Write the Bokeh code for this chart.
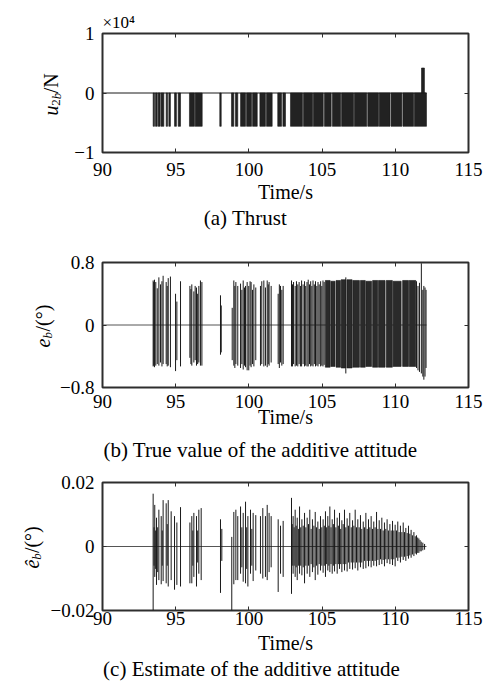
import math
from bokeh.plotting import figure
from bokeh.layouts import column, row
from bokeh.models import ColumnDataSource, FixedTicker, LinearAxis, Range1d, Title
from bokeh.core.properties import value
from bokeh.embed import file_html
from bokeh.resources import INLINE

SERIF = "Liberation Serif"
INK = "#1a1a1a"
FRAME = "#2e2e2e"

# ---------------- shared axis data ----------------
x_ticks = [90, 95, 100, 105, 110, 115]
sim_t = [90.0, 112.13]
sim_zero = [0.0, 0.0]

# ---------------- (a) thrust u_2b (N): on-intervals ----------------
thrust_start = [93.46, 93.62, 93.80, 94.00, 94.35, 94.53, 94.92, 95.17, 95.94, 96.33,
                98.01, 98.81, 99.08, 99.43, 99.84, 100.25, 100.75, 101.20, 101.97, 102.32,
                102.84, 103.73, 104.40, 105.16, 105.70, 106.33, 107.20, 108.12, 108.90,
                109.71, 110.52, 111.30, 111.79]
thrust_end = [93.55, 93.74, 93.94, 94.19, 94.44, 94.64, 95.05, 95.33, 96.28, 96.81,
              98.11, 98.97, 99.24, 99.77, 100.18, 100.57, 101.13, 101.59, 102.23, 102.50,
              103.66, 104.35, 105.08, 105.62, 106.27, 107.15, 108.05, 108.85, 109.64,
              110.45, 111.25, 112.13, 111.99]
thrust_level = [-5600, -5600, -5600, -5600, -5600, -5600, -5600, -5600, -5600, -5600,
                -5600, -5600, -5600, -5600, -5600, -5600, -5600, -5600, -5600, -5600,
                -5600, -5600, -5600, -5600, -5600, -5600, -5600, -5600, -5600,
                -5600, -5600, -5600, 4200]
a_yticks = [-10000, 0, 10000]
a_ylabels = ["\u22121", "0", "1"]

# ---------------- (b) true additive attitude e_b (deg) ----------------
b_t = [93.46, 93.50, 93.55, 93.64, 93.74, 93.85, 93.96, 94.06, 94.14, 94.35, 94.42, 94.49,
       94.64, 94.99, 95.08, 95.33, 95.97, 96.04, 96.10, 96.24, 96.33, 96.42, 96.50, 96.58,
       96.69, 96.79, 98.06, 98.11, 98.86, 98.97, 99.04, 99.11, 99.24, 99.43, 99.52, 99.61,
       99.70, 99.77, 99.88, 99.99, 100.08, 100.15, 100.25, 100.34, 100.47, 100.79, 100.88,
       101.02, 101.13, 101.25, 101.32, 101.38, 101.52, 102.00, 102.08, 102.16, 102.25,
       102.34, 102.91, 102.98, 103.05, 103.16, 103.25, 103.34, 103.43, 103.52, 103.60,
       103.70, 103.80, 103.88, 103.97, 104.05, 104.14, 104.22, 104.30, 104.38, 104.47,
       104.55, 104.64, 104.72, 104.80, 104.90, 104.98, 105.06, 105.14, 106.62, 111.45,
       111.55, 111.65, 111.78, 111.88, 111.95, 112.03, 112.10]
b_hi = [0.57, 0.55, 0.58, 0.55, 0.47, 0.61, 0.52, 0.56, 0.63, 0.55, 0.50, 0.60,
        0.62, 0.40, 0.30, 0.56, 0.50, 0.46, 0.52, 0.43, 0.50, 0.48, 0.40, 0.50,
        0.57, 0.55, 0.38, 0.25, 0.22, 0.57, 0.50, 0.55, 0.50, 0.53, 0.45, 0.57,
        0.48, 0.50, 0.55, 0.50, 0.56, 0.55, 0.45, 0.52, 0.48, 0.50, 0.56,
        0.57, 0.48, 0.57, 0.52, 0.55, 0.50, 0.40, 0.52, 0.50, 0.45,
        0.50, 0.57, 0.52, 0.55, 0.50, 0.56, 0.52, 0.55, 0.50, 0.57,
        0.52, 0.56, 0.50, 0.55, 0.58, 0.52, 0.56, 0.50, 0.57, 0.52,
        0.56, 0.50, 0.55, 0.52, 0.56, 0.50, 0.57, 0.55, 0.61, 0.56,
        0.50, 0.54, 0.79, 0.45, 0.50, 0.48, 0.45]
b_lo = [-0.53, -0.52, -0.54, -0.52, -0.50, -0.52, -0.48, -0.53, -0.50, -0.50, -0.53, -0.52,
        -0.54, -0.59, -0.45, -0.53, -0.42, -0.50, -0.52, -0.48, -0.45, -0.52, -0.50, -0.48,
        -0.52, -0.52, -0.38, -0.35, -0.45, -0.52, -0.55, -0.50, -0.52, -0.55, -0.50, -0.57,
        -0.52, -0.54, -0.58, -0.58, -0.52, -0.54, -0.50, -0.53, -0.45, -0.52, -0.50,
        -0.53, -0.52, -0.54, -0.50, -0.52, -0.48, -0.50, -0.55, -0.48, -0.52,
        -0.50, -0.53, -0.53, -0.50, -0.53, -0.52, -0.53, -0.50, -0.53, -0.53,
        -0.50, -0.53, -0.52, -0.53, -0.53, -0.50, -0.53, -0.52, -0.53, -0.50,
        -0.53, -0.52, -0.53, -0.50, -0.53, -0.52, -0.53, -0.51, -0.62, -0.55,
        -0.58, -0.60, -0.62, -0.66, -0.70, -0.66, -0.55]
b_band_start = [105.22, 105.60, 105.95, 106.30, 106.70, 107.10, 107.62, 108.00, 108.45,
                108.85, 109.38, 109.85, 110.50, 110.95]
b_band_end = [105.55, 105.88, 106.25, 106.62, 107.05, 107.55, 107.95, 108.38, 108.80,
              109.30, 109.80, 110.40, 110.90, 111.40]
b_band_hi = [0.57, 0.56, 0.57, 0.58, 0.58, 0.57, 0.57, 0.56, 0.57, 0.57, 0.57, 0.56, 0.57, 0.57]
b_band_lo = [-0.54, -0.53, -0.54, -0.55, -0.55, -0.54, -0.54, -0.53, -0.54, -0.54, -0.54, -0.53,
             -0.53, -0.53]
b_yticks = [-0.8, 0, 0.8]
b_ylabels = ["\u22120.8", "0", "0.8"]

# ---------------- (c) estimated additive attitude (deg) ----------------
c_t = [93.46, 93.52, 93.57, 93.63, 93.69, 93.77, 93.85, 94.01, 94.08, 94.14, 94.35, 94.42,
       94.49, 94.69, 94.92, 95.08, 95.33, 95.97, 96.10, 96.17, 96.24, 96.42, 96.50, 96.58,
       96.74, 98.06, 98.15, 98.83, 98.97, 99.11, 99.24, 99.43, 99.52, 99.61, 99.77, 99.85,
       99.93, 100.11, 100.20, 100.29, 100.47, 100.79, 100.95, 101.13, 101.25, 101.38, 101.52,
       102.00, 102.16, 102.34, 102.91, 102.96, 103.02, 103.09, 103.16, 103.23, 103.30,
       103.38, 103.46, 103.54, 103.62, 103.71, 103.80, 103.89, 103.98, 104.07, 104.16,
       104.25, 104.34, 104.44, 104.53, 104.62, 104.71, 104.80, 104.89, 104.98, 105.07,
       105.15, 105.23, 105.31, 105.39, 105.46, 105.53, 105.61, 105.69, 105.77, 105.85,
       105.94, 106.03, 106.11, 106.19, 106.27, 106.35, 106.44, 106.53, 106.62, 106.71,
       106.80, 106.89, 106.99, 107.08, 107.17, 107.26, 107.35, 107.44, 107.53, 107.62,
       107.71, 107.81, 107.90, 107.99, 108.08, 108.17, 108.26, 108.35, 108.44, 108.53,
       108.62, 108.72, 108.81, 108.90, 108.99, 109.08, 109.17, 109.26, 109.35, 109.44,
       109.53, 109.63, 109.72, 109.81, 109.90, 109.99, 110.08, 110.17, 110.26, 110.35,
       110.45, 110.54, 110.63, 110.72, 110.81, 110.90, 110.99, 111.08, 111.17, 111.27,
       111.36, 111.45, 111.53, 111.61, 111.69, 111.77, 111.88, 112.00]
c_hi = [0.0165, 0.0060, 0.0130, 0.0050, 0.0090, 0.0060, 0.0115, 0.0095, 0.0050, 0.0145, 0.0135, 0.0070,
        0.0145, 0.0110, 0.0095, 0.0075, 0.0123, 0.0075, 0.0095, 0.0050, 0.0105, 0.0095, 0.0050, 0.0115,
        0.0120, 0.0085, 0.0055, 0.0030, 0.0108, 0.0115, 0.0095, 0.0125, 0.0060, 0.0105, 0.0140, 0.0060,
        0.0095, 0.0115, 0.0055, 0.0105, 0.0098, 0.0095, 0.0120, 0.0095, 0.0130, 0.0105, 0.0095,
        0.0085, 0.0065, 0.0080, 0.0152, 0.0070, 0.0095, 0.0060, 0.0115, 0.0065, 0.0090,
        0.0055, 0.0125, 0.0060, 0.0085, 0.0065, 0.0105, 0.0060, 0.0090, 0.0070, 0.0115,
        0.0055, 0.0085, 0.0065, 0.0108, 0.0060, 0.0078, 0.0055, 0.0095, 0.0060, 0.0085,
        0.0065, 0.0110, 0.0060, 0.0095, 0.0065, 0.0125, 0.0060, 0.0085, 0.0070, 0.0115,
        0.0060, 0.0090, 0.0065, 0.0105, 0.0055, 0.0082, 0.0070, 0.0115, 0.0060, 0.0088,
        0.0065, 0.0105, 0.0060, 0.0082, 0.0065, 0.0115, 0.0060, 0.0085, 0.0060, 0.0098,
        0.0055, 0.0078, 0.0060, 0.0105, 0.0055, 0.0085, 0.0060, 0.0095, 0.0055, 0.0078,
        0.0060, 0.0108, 0.0055, 0.0082, 0.0055, 0.0090, 0.0050, 0.0075, 0.0055, 0.0085,
        0.0050, 0.0070, 0.0050, 0.0080, 0.0050, 0.0068, 0.0050, 0.0078, 0.0045, 0.0065,
        0.0045, 0.0075, 0.0045, 0.0058, 0.0042, 0.0065, 0.0040, 0.0052, 0.0035, 0.0045,
        0.0032, 0.0035, 0.0028, 0.0025, 0.0020, 0.0015, 0.0012, 0.0008]
c_lo = [-0.0200, -0.0060, -0.0095, -0.0070, -0.0120, -0.0080, -0.0105, -0.0118, -0.0060, -0.0108, -0.0115, -0.0060,
        -0.0125, -0.0105, -0.0135, -0.0120, -0.0125, -0.0115, -0.0115, -0.0060, -0.0095, -0.0125, -0.0050, -0.0085,
        -0.0105, -0.0145, -0.0045, -0.0200, -0.0118, -0.0105, -0.0105, -0.0085, -0.0065, -0.0110, -0.0115, -0.0070,
        -0.0125, -0.0085, -0.0060, -0.0108, -0.0075, -0.0085, -0.0100, -0.0095, -0.0105, -0.0080, -0.0065,
        -0.0142, -0.0085, -0.0095, -0.0148, -0.0060, -0.0085, -0.0060, -0.0095, -0.0065, -0.0105,
        -0.0060, -0.0085, -0.0060, -0.0090, -0.0065, -0.0115, -0.0060, -0.0085, -0.0060, -0.0095,
        -0.0055, -0.0080, -0.0065, -0.0105, -0.0060, -0.0088, -0.0055, -0.0075, -0.0060, -0.0082,
        -0.0060, -0.0095, -0.0055, -0.0075, -0.0060, -0.0080, -0.0055, -0.0085, -0.0060, -0.0078,
        -0.0055, -0.0085, -0.0055, -0.0070, -0.0055, -0.0080, -0.0055, -0.0075, -0.0055, -0.0078,
        -0.0050, -0.0070, -0.0050, -0.0072, -0.0050, -0.0068, -0.0050, -0.0075, -0.0050, -0.0065,
        -0.0050, -0.0070, -0.0045, -0.0068, -0.0045, -0.0062, -0.0045, -0.0065, -0.0045, -0.0060,
        -0.0045, -0.0062, -0.0042, -0.0058, -0.0040, -0.0055, -0.0042, -0.0062, -0.0040, -0.0052,
        -0.0040, -0.0055, -0.0040, -0.0058, -0.0040, -0.0062, -0.0035, -0.0045, -0.0035, -0.0050,
        -0.0032, -0.0042, -0.0032, -0.0045, -0.0030, -0.0038, -0.0028, -0.0035, -0.0025, -0.0030,
        -0.0022, -0.0025, -0.0020, -0.0020, -0.0015, -0.0015, -0.0012, -0.0010]
c_yticks = [-0.02, 0, 0.02]
c_ylabels = ["\u22120.02", "0", "0.02"]


def mirror_axis(ticks):
    return LinearAxis(ticker=FixedTicker(ticks=ticks),
                      major_label_overrides={t: "" for t in ticks},
                      major_label_text_font_size="1px",
                      axis_line_color=None, major_tick_in=4, major_tick_out=0,
                      major_tick_line_color=FRAME, minor_tick_line_color=None,
                      major_label_standoff=0)


def make_panel(width, height, b_left, b_top, b_bottom, yr, yticks, ylabels,
               tick_standoff, label_standoff):
    p = figure(width=width, height=height, x_range=Range1d(90, 115), y_range=Range1d(yr[0], yr[1]),
               output_backend="svg", toolbar_location=None,
               min_border_left=b_left, min_border_right=22,
               min_border_top=b_top, min_border_bottom=b_bottom,
               background_fill_color="white", border_fill_color="white")
    p.xgrid.visible = False
    p.ygrid.visible = False
    p.outline_line_color = FRAME
    p.outline_line_width = 2
    for ax in (p.xaxis[0], p.yaxis[0]):
        ax.axis_line_color = None
        ax.major_tick_in = 4
        ax.major_tick_out = 0
        ax.major_tick_line_color = FRAME
        ax.minor_tick_line_color = None
        ax.major_label_text_font = SERIF
        ax.major_label_text_font_size = "19px"
        ax.major_label_text_color = "black"
    p.xaxis.ticker = FixedTicker(ticks=x_ticks)
    p.xaxis.major_label_overrides = {t: str(t) for t in x_ticks}
    p.xaxis.major_label_standoff = tick_standoff
    p.xaxis.axis_label = "Time/s"
    p.xaxis.axis_label_text_font = SERIF
    p.xaxis.axis_label_text_font_size = "20px"
    p.xaxis.axis_label_text_font_style = "normal"
    p.xaxis.axis_label_text_color = "black"
    p.xaxis.axis_label_standoff = label_standoff
    p.yaxis.ticker = FixedTicker(ticks=yticks)
    p.yaxis.major_label_overrides = dict(zip(yticks, ylabels))
    p.yaxis.major_label_standoff = 8
    p.add_layout(mirror_axis(x_ticks), "above")
    p.add_layout(mirror_axis(yticks), "right")
    return p


def strip(width, height, frame_h=None):
    # frame_h: when the strip sits in a row next to a panel, its frame is aligned to that
    # panel's frame, so y counts pixels up from the panel frame's bottom edge.
    yh = height if frame_h is None else frame_h
    s = figure(width=width, height=height, x_range=Range1d(0, width), y_range=Range1d(0, yh),
               output_backend="svg", toolbar_location=None, x_axis_type=None, y_axis_type=None,
               min_border_left=0, min_border_right=0, min_border_top=0, min_border_bottom=0,
               outline_line_color=None, background_fill_color="white", border_fill_color="white")
    return s


def put(s, x, y, text, size, style="normal", angle=0.0):
    # (x, y) is the centre of the text box
    s.text(x=[x], y=[y], text=[text], angle=angle, text_font=value(SERIF),
           text_font_size=value(size), text_font_style=value(style), text_color="black",
           text_align="center", text_baseline="middle")


R = math.pi / 2

# ---------- panel (a) ----------
mainA = make_panel(426, 205, 38, 33, 50, (-10000, 10000), a_yticks, a_ylabels, 10, 2)
mainA.add_layout(Title(text="\u00d710\u2074", align="left", text_font=SERIF, text_font_size="17px",
                       text_font_style="normal", text_color="black", standoff=3, offset=0), "above")
mainA.line(sim_t, sim_zero, line_color=INK, line_width=1)
a_src = ColumnDataSource(dict(
    left=thrust_start, right=thrust_end,
    top=[max(v, 0) for v in thrust_level], bottom=[min(v, 0) for v in thrust_level]))
mainA.quad(left="left", right="right", top="top", bottom="bottom", source=a_src,
           fill_color="#222222", line_color=INK, line_width=0.6)

leftA = strip(64, 205, 122)
put(leftA, 50.3, 43, "u", "20px", "italic", R)
put(leftA, 55.6, 51.3, "2", "13px", "normal", R)
put(leftA, 55.6, 57.8, "b", "13px", "italic", R)
put(leftA, 50.3, 71, "/N", "20px", "normal", R)

capA = strip(490, 27)
put(capA, 245, 14.5, "(a) Thrust", "21px")

# ---------- panel (b) ----------
mainB = make_panel(434, 198, 46, 30, 43, (-0.8, 0.8), b_yticks, b_ylabels, 7, -5)
mainB.line(sim_t, sim_zero, line_color="#555555", line_width=1)
b_band_src = ColumnDataSource(dict(left=b_band_start, right=b_band_end, top=b_band_hi, bottom=b_band_lo))
mainB.quad(left="left", right="right", top="top", bottom="bottom", source=b_band_src,
           fill_color="#2a2a2a", line_color=INK, line_width=0.6)
b_src = ColumnDataSource(dict(t=b_t, hi=b_hi, lo=b_lo))
mainB.segment(x0="t", y0="lo", x1="t", y1="hi", source=b_src, line_color=INK, line_width=1)

leftB = strip(56, 198, 125)
put(leftB, 42.3, 44.5, "e", "20px", "italic", R)
put(leftB, 47.3, 52.2, "b", "13px", "italic", R)
put(leftB, 42.3, 69.5, "/(\u00b0)", "20px", "normal", R)

capB = strip(490, 33)
put(capB, 260, 13.1, "(b) True value of the additive attitude", "21px")

# ---------- panel (c) ----------
mainC = make_panel(444, 193, 56, 19, 43, (-0.02, 0.02), c_yticks, c_ylabels, 1, 4)
mainC.line(sim_t, sim_zero, line_color="#555555", line_width=1)
c_src = ColumnDataSource(dict(t=c_t, hi=c_hi, lo=c_lo))
mainC.segment(x0="t", y0="lo", x1="t", y1="hi", source=c_src, line_color=INK, line_width=1)

leftC = strip(46, 193, 131)
put(leftC, 31.3, 47.5, "\u00ea", "20px", "italic", R)
put(leftC, 36.3, 55.2, "b", "13px", "italic", R)
put(leftC, 31.3, 72.5, "/(\u00b0)", "20px", "normal", R)

capC = strip(490, 28)
put(capC, 251, 15.1, "(c) Estimate of the additive attitude", "21px")

layout = column(row(leftA, mainA, spacing=0), capA,
                row(leftB, mainB, spacing=0), capB,
                row(leftC, mainC, spacing=0), capC, spacing=0)
open("out.html", "w").write(file_html(layout, INLINE))
